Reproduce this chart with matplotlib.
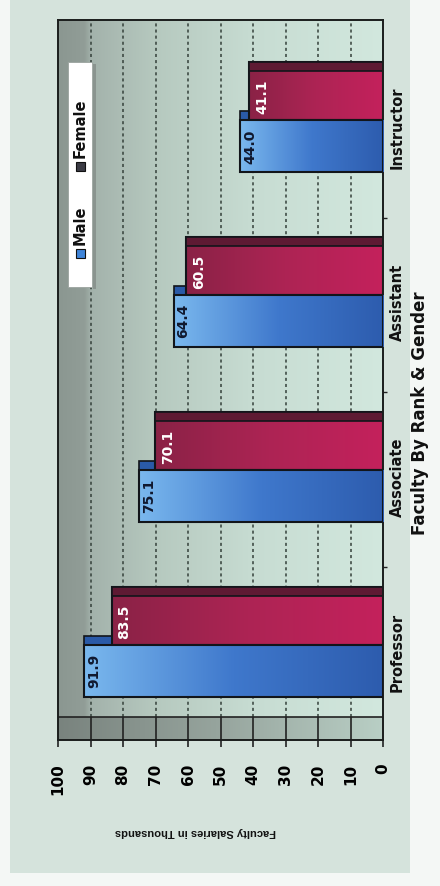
import numpy as np
import matplotlib
matplotlib.use("Agg")
import matplotlib.pyplot as plt
from matplotlib.patches import Rectangle
from matplotlib.colors import LinearSegmentedColormap
import matplotlib.transforms as mtransforms

# Data
categories = ["Professor", "Associate", "Assistant", "Instructor"]
male = [91.9, 75.1, 64.4, 44.0]
female = [83.5, 70.1, 60.5, 41.1]
value_ticks = list(range(0, 101, 10))

W, H = 440, 886
PX = 175.0  # pixels per category unit

fig = plt.figure(figsize=(W / 100, H / 100), dpi=100)
fig.patch.set_facecolor("#f4f7f5")
fig.patches.append(Rectangle((10 / W, 13 / H), 400 / W, 1 - 13 / H, transform=fig.transFigure,
                             facecolor="#d5e3dc", edgecolor="none", zorder=-1))

ax = fig.add_axes([58 / W, (H - 740) / H, 325 / W, 720 / H])
ylo, yhi = -97.5 / PX, 3 + 98 / PX

# back wall gradient (grey at 100 -> mint at 0)
wall_cmap = LinearSegmentedColormap.from_list(
    "wall", [(0, "#d2e8de"), (0.4, "#c7dcd2"), (0.7, "#b6c9bf"), (0.9, "#a3b2ab"), (0.92, "#919d97"), (1, "#8b9791")])
ax.imshow(np.linspace(0, 1, 256).reshape(1, -1), cmap=wall_cmap, extent=(0, 100, ylo, yhi),
          aspect="auto", zorder=0, interpolation="bilinear")

# side wall strip at the bottom
side_top = ylo + 23 / PX
side_cmap = LinearSegmentedColormap.from_list("side", [(0, "#b9cfc5"), (0.5, "#97a59e"), (1, "#79837e")])
ax.imshow(np.linspace(0, 1, 256).reshape(1, -1), cmap=side_cmap, extent=(0, 100, ylo, side_top),
          aspect="auto", zorder=0.6, interpolation="bilinear")
ax.axhline(side_top, color="#222", lw=1.2, zorder=0.7)

for v in value_ticks[1:-1]:
    ax.vlines(v, side_top, yhi, colors="#34403a", lw=1.1, linestyles=(0, (2, 2)), zorder=0.5)
    ax.vlines(v, ylo, side_top, colors="#222", lw=1.2, zorder=0.7)

male_cmap = LinearSegmentedColormap.from_list("m", ["#2d5cae", "#3f78cc", "#7ab8ee"])
female_cmap = LinearSegmentedColormap.from_list("f", ["#c4215c", "#ad2454", "#8a2246"])


def grad_bar(v, y0, y1, cmap, z):
    ax.imshow(np.linspace(0, 1, 256).reshape(1, -1), cmap=cmap, extent=(0, v, y0, y1),
              aspect="auto", zorder=z, interpolation="bilinear")
    ax.add_patch(Rectangle((0, y0), v, y1 - y0, fill=False, ec="#12151a", lw=1.5, zorder=z + 0.1))


for i, (m, f) in enumerate(zip(male, female)):
    # male bar depth (visible cap)
    ax.add_patch(Rectangle((0, i - 2.5 / PX), m, 9 / PX, fc="#2a5aa8", ec="#12151a", lw=1.2, zorder=1))
    # female bar
    grad_bar(f, i - 2.5 / PX, i + 55.5 / PX, female_cmap, 2)
    ax.add_patch(Rectangle((0, i + 47 / PX), f, 8.5 / PX, fc="#5e1a33", ec="#12151a", lw=1.2, zorder=2.2))
    # male bar
    grad_bar(m, i - 54.5 / PX, i - 2.5 / PX, male_cmap, 3)
    ax.text(m - 0.9, i - 28.5 / PX, f"{m:.1f}", rotation=90, ha="left", va="center",
            fontsize=10, fontweight="bold", color="#10182e", zorder=5)
    ax.text(f - 1.8, i + 21 / PX, f"{f:.1f}", rotation=90, ha="left", va="center",
            fontsize=10, fontweight="bold", color="white", zorder=5)

ax.set_xlim(100, 0)
ax.set_ylim(ylo, yhi)
ax.set_xticks(value_ticks)
ax.set_xticklabels([str(v) for v in value_ticks], rotation=90, fontsize=11, fontweight="bold")
ax.tick_params(axis="x", direction="out", length=5, width=1.2, pad=12, color="#222")
ax.yaxis.tick_right()
ax.set_yticks([i + 0.43 for i in range(3)])
ax.set_yticklabels([])
ax.tick_params(axis="y", direction="out", length=3, width=1, color="#222")
for s in ax.spines.values():
    s.set_color("#1a1d1c")
    s.set_linewidth(1.4)

# category labels
trans = mtransforms.blended_transform_factory(ax.transAxes, ax.transData)
for i, c in enumerate(categories):
    ax.text(1.043, i - 10 / PX, c, transform=trans, rotation=90, ha="center", va="center",
            fontsize=10.5, fontweight="bold", color="#111")

# legend
ax.add_patch(Rectangle((0.108, 0.626), 0.01, 0.313, transform=ax.transAxes, fc="#8a948f", ec="none", zorder=6))
ax.add_patch(Rectangle((0.031, 0.629), 0.074, 0.313, transform=ax.transAxes, fc="white", ec="#9aa39e",
                       lw=0.6, zorder=6))
ax.add_patch(Rectangle((0.054, 0.669), 0.028, 0.0125, transform=ax.transAxes, fc="#3f84d8", ec="#111",
                       lw=0.8, zorder=7))
ax.add_patch(Rectangle((0.054, 0.790), 0.028, 0.0125, transform=ax.transAxes, fc="#3b3b44", ec="#111",
                       lw=0.8, zorder=7))
ax.text(0.068, 0.688, "Male", transform=ax.transAxes, rotation=90, ha="center", va="bottom",
        fontsize=10.5, fontweight="bold", color="#111", zorder=7)
ax.text(0.068, 0.809, "Female", transform=ax.transAxes, rotation=90, ha="center", va="bottom",
        fontsize=10.5, fontweight="bold", color="#111", zorder=7)

# titles
fig.text(420 / W, (H - 413) / H, "Faculty By Rank & Gender", rotation=90, ha="center", va="center",
         fontsize=12, fontweight="bold", color="#111")
fig.text(195 / W, (H - 832) / H, "Faculty Salaries in Thousands", rotation=180, ha="center", va="center",
         fontsize=8, fontweight="bold", color="#111", family=["Liberation Sans", "DejaVu Sans"])

fig.savefig("out.png", dpi=100, facecolor=fig.get_facecolor())
